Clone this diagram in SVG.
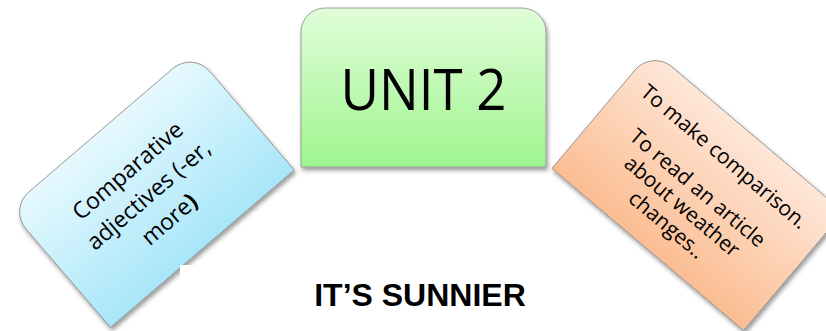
<svg xmlns="http://www.w3.org/2000/svg" width="826" height="331" viewBox="0 0 826 331">
<style>
.lbl{font-family:"Open Sans","Noto Sans","Liberation Sans",sans-serif;fill:#000;text-anchor:middle}
.box{stroke:#8a8a8a;stroke-width:0.8}
.title{font-family:"Liberation Sans",Arial,sans-serif;font-weight:bold;font-size:32px;fill:#000;text-anchor:middle}
</style>
<defs>
<linearGradient id="gGreen" x1="0" y1="0" x2="0" y2="1">
<stop offset="0" stop-color="#e0fdd9"/><stop offset="1" stop-color="#9ff58e"/>
</linearGradient>
<linearGradient id="gBlue" x1="0" y1="0" x2="0" y2="1">
<stop offset="0" stop-color="#e6f9fe"/><stop offset="1" stop-color="#a8e6f9"/>
</linearGradient>
<linearGradient id="gOrange" x1="0" y1="0" x2="0" y2="1">
<stop offset="0" stop-color="#fee7d8"/><stop offset="1" stop-color="#fbbd92"/>
</linearGradient>
<filter id="sh" x="-10%" y="-10%" width="130%" height="130%">
<feDropShadow dx="1.5" dy="3" stdDeviation="2" flood-color="#000" flood-opacity="0.4"/>
</filter>
</defs>
<rect width="826" height="331" fill="#fff"/>
<g id="connectors"/>
<g id="node-left">
<g filter="url(#sh)">
<path class="box" transform="translate(9,209) rotate(-40.6)" d="M0,156 V26 A26,26 0 0 1 26,0 H216 A26,26 0 0 1 242,26 V156 Z" fill="url(#gBlue)"/>
</g>
<g transform="translate(9,209) rotate(-40.6)" class="lbl" font-size="23">
<text x="115" y="56">Comparative</text>
<text x="115" y="88">adjectives (-er,</text>
<text x="115" y="120">more<tspan font-weight="bold">)</tspan></text>
</g>
<rect x="180" y="265" width="40" height="30" fill="#fff"/>
</g>
<g id="node-center">
<g filter="url(#sh)">
<path class="box" d="M301,167 V32 A24,24 0 0 1 325,8 H522 A24,24 0 0 1 546,32 V167 Z" fill="url(#gGreen)"/>
</g>
<text class="lbl" x="423.5" y="110" font-size="56" textLength="166" lengthAdjust="spacingAndGlyphs">UNIT 2</text>
</g>
<g id="node-right">
<g filter="url(#sh)">
<path class="box" transform="translate(652,50) rotate(40.2)" d="M0,155 V26 A26,26 0 0 1 26,0 H225 A26,26 0 0 1 251,26 V155 Z" fill="url(#gOrange)"/>
</g>
<g transform="translate(652,50) rotate(40.2)" class="lbl" font-size="21">
<text x="124" y="42">To make comparison.</text>
<text x="124" y="83">To read an article</text>
<text x="124" y="107">about weather</text>
<text x="124" y="131">changes..</text>
</g>
</g>
<text class="title" x="420" y="306">IT’S SUNNIER</text>
</svg>
